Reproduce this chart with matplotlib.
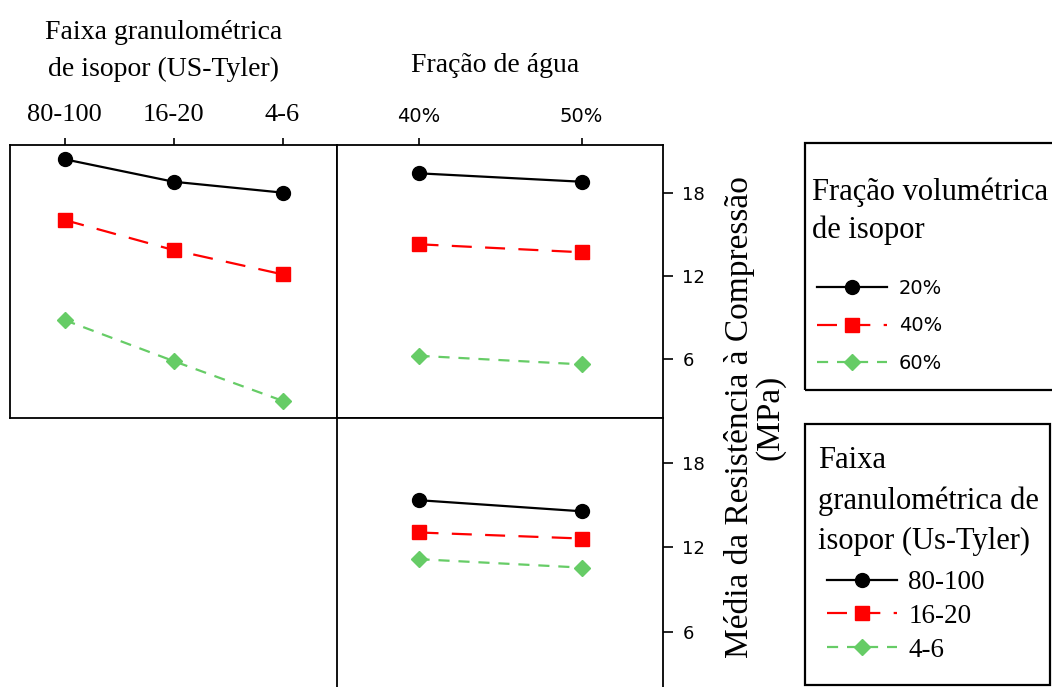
import matplotlib
matplotlib.use("Agg")
import matplotlib.pyplot as plt
from matplotlib.patches import Rectangle

# categorias
gran_labels = ['80-100', '16-20', '4-6']
agua_labels = ['40%', '50%']
vol_labels = ['20%', '40%', '60%']

# painel superior esquerdo: fração volumétrica x faixa granulométrica
vol20_gran = [20.46, 18.83, 18.04]
vol40_gran = [16.06, 13.88, 12.12]
vol60_gran = [8.81, 5.84, 2.96]

# painel superior direito: fração volumétrica x fração de água
vol20_agua = [19.44, 18.83]
vol40_agua = [14.30, 13.72]
vol60_agua = [6.22, 5.60]

# painel inferior direito: faixa granulométrica x fração de água
gran80_agua = [15.35, 14.56]
gran16_agua = [13.05, 12.62]
gran4_agua = [11.15, 10.55]

y_ticks = [6, 12, 18]

SERIF = 'Liberation Serif'
SANS = 'DejaVu Sans'

W, H = 1052, 687
fig = plt.figure(figsize=(W / 100, H / 100), dpi=100)

def fx(px):
    return px / W

def fy(py):
    return 1 - py / H

ph = 272.5 / H  # altura de cada painel
ax_tl = fig.add_axes([fx(10), fy(417.5), fx(327), ph])
ax_tr = fig.add_axes([fx(337), fy(417.5), fx(326), ph])
ax_br = fig.add_axes([fx(337), fy(418 + 272.5), fx(326), ph])

styles = [
    dict(color='black', ls='-', marker='o', ms=10, lw=1.6),
    dict(color='red', ls=(0, (9, 6)), marker='s', ms=10, lw=1.6),
    dict(color='#66cc66', ls=(0, (5, 4)), marker='D', ms=8.5, lw=1.6),
]

def draw(ax, series, ncat):
    lines = []
    for vals, st in zip(series, styles):
        ln, = ax.plot(range(ncat), vals, **st)
        lines.append(ln)
    return lines

vol_lines = draw(ax_tl, [vol20_gran, vol40_gran, vol60_gran], 3)
draw(ax_tr, [vol20_agua, vol40_agua, vol60_agua], 2)
gran_lines = draw(ax_br, [gran80_agua, gran16_agua, gran4_agua], 2)

for ax in (ax_tl, ax_tr, ax_br):
    for sp in ax.spines.values():
        sp.set_linewidth(1.3)

# eixo x no topo
ax_tl.set_xlim(-0.5, 2.5)
ax_tl.set_xticks(range(3))
ax_tl.set_xticklabels(gran_labels, family=SERIF, fontsize=19)
ax_tr.set_xlim(-0.5, 1.5)
ax_tr.set_xticks(range(2))
ax_tr.set_xticklabels(agua_labels, family=SANS, fontsize=14)
for ax in (ax_tl, ax_tr):
    ax.xaxis.tick_top()
    ax.tick_params(axis='x', direction='out', length=5, width=1.2, pad=9)
ax_br.set_xlim(-0.5, 1.5)
ax_br.set_xticks([])

# eixo y à direita
ax_tl.set_ylim(1.75, 21.49)
ax_tl.set_yticks([])
ax_tr.set_ylim(1.75, 21.49)
ax_br.set_ylim(1.8, 21.2)
for ax in (ax_tr, ax_br):
    ax.yaxis.tick_right()
    ax.set_yticks(y_ticks)
    ax.set_yticklabels([str(t) for t in y_ticks], family=SANS, fontsize=13)
    ax.tick_params(axis='y', direction='out', length=7, width=1.2, pad=7)

# títulos dos fatores
fig.text(fx(164), fy(51), 'Faixa granulométrica\nde isopor (US-Tyler)',
         family=SERIF, fontsize=20, ha='center', va='center',
         multialignment='center', linespacing=1.65)
fig.text(fx(495), fy(65), 'Fração de água', family=SERIF, fontsize=20,
         ha='center', va='center')

fig.text(fx(755), fy(417), 'Média da Resistência à Compressão\n(MPa)',
         family=SERIF, fontsize=24, rotation=90, ha='center', va='center',
         multialignment='center', linespacing=1.0)

# legendas: moldura, título e entradas
fig.add_artist(Rectangle((fx(805), fy(390)), fx(300), (390 - 143) / H,
                         transform=fig.transFigure, fill=False,
                         ec='black', lw=1.6))
fig.add_artist(Rectangle((fx(805), fy(685)), fx(245), (685 - 424) / H,
                         transform=fig.transFigure, fill=False,
                         ec='black', lw=1.6))

fig.text(fx(812), fy(211), 'Fração volumétrica\nde isopor', family=SERIF,
         fontsize=22, ha='left', va='center', linespacing=1.37)
fig.legend(vol_lines, vol_labels, loc='upper left',
           bbox_to_anchor=(fx(817), fy(279)), borderpad=0, borderaxespad=0,
           frameon=False, numpoints=1, prop={'family': SANS, 'size': 14},
           handlelength=3.6, handletextpad=0.6, labelspacing=0.95)

fig.text(fx(818), fy(501), 'Faixa\ngranulométrica de\nisopor (Us-Tyler)',
         family=SERIF, fontsize=22, ha='left', va='center', linespacing=1.5)
fig.legend(gran_lines, gran_labels, loc='upper left',
           bbox_to_anchor=(fx(827), fy(570)), borderpad=0, borderaxespad=0,
           frameon=False, numpoints=1, prop={'family': SERIF, 'size': 19.5},
           handlelength=2.6, handletextpad=0.4, labelspacing=0.33)

fig.savefig('out.png', dpi=100)
